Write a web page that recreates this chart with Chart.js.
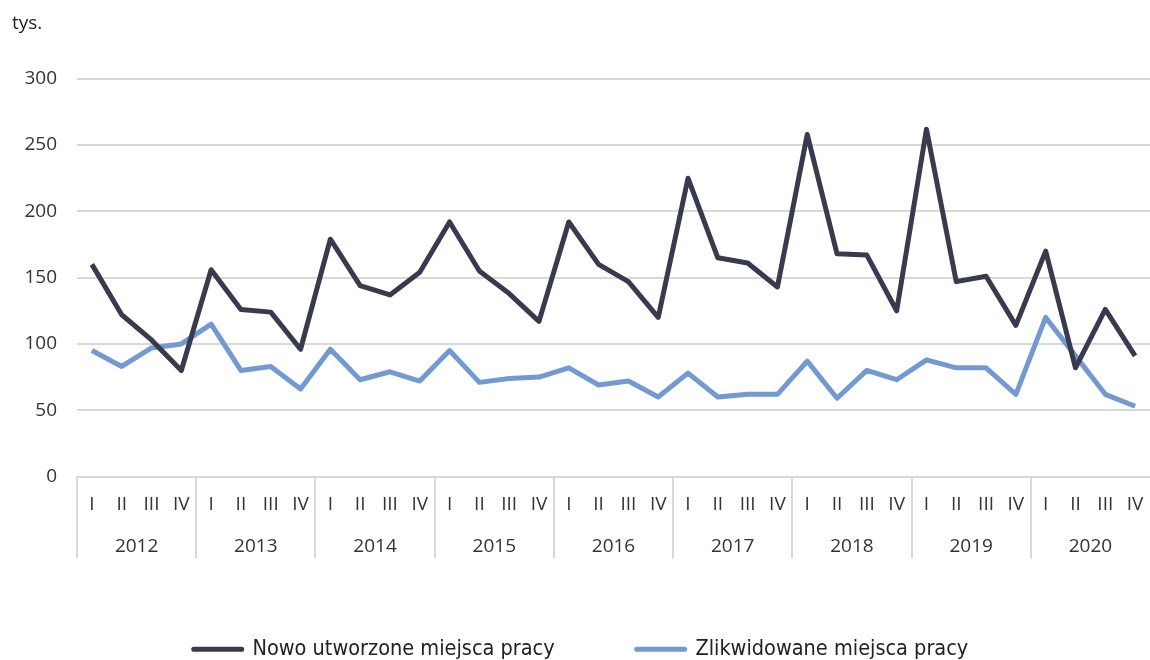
<!DOCTYPE html>
<html>
<head>
<meta charset="utf-8">
<script src="https://cdn.jsdelivr.net/npm/chart.js@4"></script>
<style>
  html, body { margin: 0; padding: 0; background: #fff; }
  #wrap { width: 1150px; height: 660px; }
</style>
</head>
<body>
<div id="wrap"><canvas id="jobsChart"></canvas></div>
<script>
const years = ['2012', '2013', '2014', '2015', '2016', '2017', '2018', '2019', '2020'];
const quarters = ['I', 'II', 'III', 'IV'];
const yTicks = [0, 50, 100, 150, 200, 250, 300];

// thousands of jobs per quarter
const newJobs = [160, 122, 103, 80, 156, 126, 124, 96, 179, 144, 137, 154,
    192, 155, 138, 117, 192, 160, 147, 120, 225, 165, 161, 143,
    258, 168, 167, 125, 262, 147, 151, 114, 170, 82, 126, 91];
const closedJobs = [95, 83, 97, 100, 115, 80, 83, 66, 96, 73, 79, 72,
    95, 71, 74, 75, 82, 69, 72, 60, 78, 60, 62, 62,
    87, 59, 80, 73, 88, 82, 82, 62, 120, 91, 62, 53];

const labels = [];
years.forEach(() => quarters.forEach(q => labels.push(q)));

const gridGray = '#d9d9d9';
const tickFont = { family: "'Open Sans', 'Noto Sans', sans-serif", size: 19 };

new Chart(document.getElementById('jobsChart'), {
    type: 'line',
    data: {
        labels: labels,
        datasets: [{
            label: 'Nowo utworzone miejsca pracy',
            data: newJobs,
            borderColor: '#383a4d',
            backgroundColor: '#383a4d',
            borderWidth: 5,
            borderJoinStyle: 'round',
            pointRadius: 0
        }, {
            label: 'Zlikwidowane miejsca pracy',
            data: closedJobs,
            borderColor: '#7399d2',
            backgroundColor: '#7399d2',
            borderWidth: 5,
            borderJoinStyle: 'round',
            pointRadius: 0
        }]
    },
    options: {
        responsive: true,
        maintainAspectRatio: false,
        animation: false,
        layout: { padding: { left: 12, right: 0, top: 0, bottom: -10 } },
        plugins: {
            title: {
                display: true,
                text: 'tys.',
                align: 'start',
                color: '#222',
                font: { family: tickFont.family, size: 19, weight: 'normal' },
                padding: { top: 12, bottom: 44 }
            },
            legend: {
                position: 'bottom',
                labels: {
                    color: '#222',
                    font: { family: "'DejaVu Sans Condensed', 'Liberation Sans Narrow', sans-serif", size: 21.5 },
                    boxWidth: 48,
                    boxHeight: 0,
                    padding: 82
                }
            },
            tooltip: { enabled: false }
        },
        scales: {
            y: {
                min: 0,
                max: 300,
                afterBuildTicks: s => { s.ticks = yTicks.map(v => ({ value: v })); },
                afterFit: s => { s.width = 65; },
                border: { display: false },
                grid: { color: gridGray, lineWidth: 2, drawTicks: false },
                ticks: { color: '#333', font: tickFont, padding: 20 }
            },
            x: {
                weight: 0,
                offset: true,
                afterFit: s => { s.height = 38; },
                border: { display: true, color: gridGray, width: 2 },
                grid: {
                    offset: true,
                    drawOnChartArea: false,
                    tickLength: 82,
                    lineWidth: 2,
                    color: ctx => ctx.index % 4 === 0 ? gridGray : 'rgba(0,0,0,0)'
                },
                ticks: {
                    color: '#333',
                    font: tickFont,
                    padding: -65,
                    autoSkip: false,
                    maxRotation: 0
                }
            },
            x2: {
                type: 'category',
                position: 'bottom',
                weight: 1,
                labels: years,
                offset: true,
                afterFit: s => { s.height = 42; },
                border: { display: false },
                grid: { display: false, drawTicks: false },
                ticks: { color: '#333', font: tickFont, padding: 21 }
            }
        }
    }
});
</script>
</body>
</html>
